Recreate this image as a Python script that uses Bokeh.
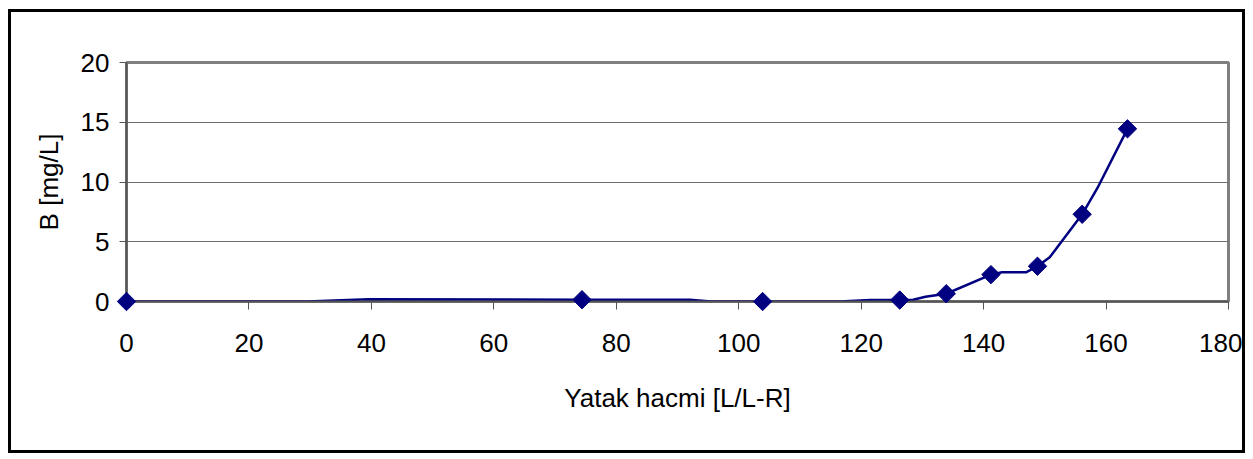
import math
from bokeh.plotting import figure
from bokeh.models import Range1d, FixedTicker
from bokeh.embed import file_html
from bokeh.resources import INLINE

# data
marker_x = [0, 74.4, 103.9, 126.3, 133.9, 141.2, 148.8, 156.1, 163.5]
marker_y = [0, 0.15, 0, 0.12, 0.65, 2.25, 2.95, 7.3, 14.45]
line_x = [0, 29.5, 39.5, 74.4, 92, 95.5, 103.9, 116.5, 121.5, 126.3, 128.5, 130.5,
          133.9, 141.2, 143, 147, 148.8, 150.8, 156.1, 158.6, 163.5]
line_y = [0, 0, 0.18, 0.15, 0.15, 0, 0, 0, 0.12, 0.12, 0.15, 0.4,
          0.65, 2.25, 2.45, 2.45, 2.95, 3.7, 7.3, 9.5, 14.45]
x_ticks = [0, 20, 40, 60, 80, 100, 120, 140, 160, 180]
y_ticks = [0, 5, 10, 15, 20]

FONT = "Liberation Sans"

p = figure(width=1237, height=444, output_backend="svg", toolbar_location=None,
           x_range=Range1d(0, 180), y_range=Range1d(0, 20),
           min_border_left=115, min_border_right=20, min_border_top=50, min_border_bottom=155)
p.styles = {"margin-left": "8px", "margin-top": "9px", "border": "3px solid black"}

p.outline_line_color = "#808080"
p.outline_line_width = 3
p.xgrid.visible = False
p.ygrid.grid_line_color = "#6e6e6e"
p.ygrid.grid_line_width = 1

for ax in (p.xaxis[0], p.yaxis[0]):
    ax.axis_line_color = "#555555"
    ax.axis_line_width = 2
    ax.major_tick_line_color = "#555555"
    ax.major_tick_line_width = 1
    ax.minor_tick_line_color = None
    ax.major_tick_in = 0
    ax.major_label_text_font = FONT
    ax.major_label_text_font_size = "26px"
    ax.major_label_text_color = "black"
    ax.axis_label_text_font = FONT
    ax.axis_label_text_font_style = "normal"
    ax.axis_label_text_color = "black"

p.xaxis.ticker = FixedTicker(ticks=x_ticks)
p.yaxis.ticker = FixedTicker(ticks=y_ticks)
p.xaxis.major_tick_out = 8
p.yaxis.major_tick_out = 7
p.xaxis.major_label_standoff = 24
p.yaxis.major_label_standoff = 10
p.xaxis.axis_label = "Yatak hacmi [L/L-R]"
p.yaxis.axis_label = "B [mg/L]"
p.xaxis.axis_label_text_font_size = "26px"
p.yaxis.axis_label_text_font_size = "26px"
p.xaxis.axis_label_standoff = 28
p.yaxis.axis_label_standoff = 14

p.line(line_x, line_y, line_color="#000080", line_width=2.5)
p.scatter(marker_x, marker_y, marker="square", size=13, angle=math.pi / 4,
          fill_color="#000080", line_color="#000080", level="overlay")

open("out.html", "w").write(file_html(p, INLINE))
